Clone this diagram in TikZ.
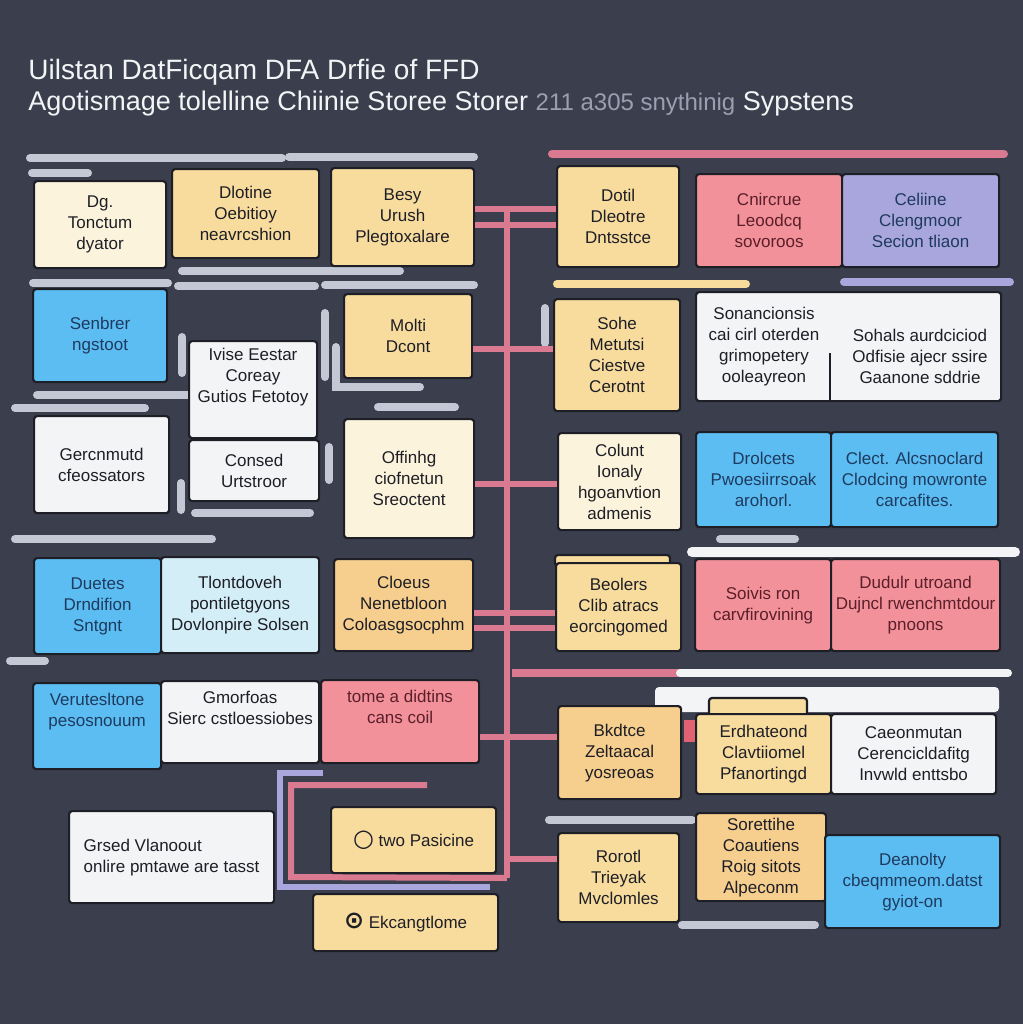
\documentclass[tikz,border=0pt]{standalone}
\usepackage{fontspec}
\setmainfont{Liberation Sans}
\newfontfamily\symfont{DejaVu Sans}
\usetikzlibrary{positioning}
\definecolor{slate}{HTML}{3B3F4D}
\definecolor{ink}{HTML}{1E1F26}
\definecolor{cream}{HTML}{FBF3DC}
\definecolor{sand}{HTML}{F8DC9E}
\definecolor{amber}{HTML}{F6CE8E}
\definecolor{sky}{HTML}{5BBDF2}
\definecolor{mist}{HTML}{D4EEF7}
\definecolor{blush}{HTML}{F3919A}
\definecolor{lilac}{HTML}{A9A6DE}
\definecolor{paper}{HTML}{F3F4F6}
\definecolor{haze}{HTML}{C3C8D4}
\definecolor{rose}{HTML}{D97A90}
\definecolor{navy}{HTML}{1F3A5F}
\definecolor{wine}{HTML}{5A1F2A}
\definecolor{dimtext}{HTML}{9AA0B0}
\tikzset{
card/.style={draw=ink, line width=1.1pt, rounded corners=1.5pt, anchor=north west, align=center, inner sep=2pt, text=ink, font=\fontsize{8.5}{10.5}\selectfont}, % every box of the sketch
sz/.style 2 args={minimum width=#1*0.5pt, minimum height=#2*0.5pt}, % box size in pixels
lbl/.style={align=center, text=ink, font=\fontsize{8.5}{10.5}\selectfont}, % loose text inside a box
rail/.style={line width=4pt, line cap=round, draw=haze}, % the pale bars
wire/.style={line width=3pt, draw=rose}, % pink links to the trunk
}

\begin{document}
\begin{tikzpicture}[
  x=0.5pt, y=-0.5pt
]
  \fill[slate] (0,0) rectangle (1023,1024);
  \useasboundingbox (0,0) rectangle (1023,1024);

  % heading
  \node[anchor=west, text=paper, font=\fontsize{14}{16}\selectfont, inner sep=0pt] (title) at (28,72) {Uilstan DatFicqam DFA Drfie of FFD};
  \node[anchor=west, text=paper, font=\fontsize{13.5}{15}\selectfont, inner sep=0pt] (subtitle) at (28,104) {Agotismage tolelline Chiinie Storee Storer {\color{dimtext}\fontsize{12}{14}\selectfont 211 a305 snythinig} Sypstens};

  % pale bars
  \draw[rail] (30,158) -- (282,158);
  \draw[rail] (289,157) -- (474,157);
  \draw[rail] (32,173) -- (88,173);
  \draw[rail] (182,271) -- (400,271);
  \draw[rail] (33,283) -- (168,283);
  \draw[rail] (178,286) -- (315,286);
  \draw[rail] (325,285) -- (474,285);
  \draw[rail] (182,337) -- (182,373);
  \draw[rail] (325,313) -- (325,377);
  \draw[rail] (336,347) -- (336,387) -- (420,387);
  \draw[rail] (37,395) -- (283,395);
  \draw[rail] (15,408) -- (145,408);
  \draw[rail] (378,407) -- (455,407);
  \draw[rail] (329,447) -- (329,480);
  \draw[rail] (181,483) -- (181,510);
  \draw[rail] (195,513) -- (310,513);
  \draw[rail] (15,539) -- (212,539);
  \draw[rail] (10,661) -- (45,661);
  \draw[rail] (720,539) -- (795,539);
  \draw[rail, draw=paper, line width=5pt] (692,552) -- (1015,552);
  \draw[rail, draw=sand] (557,284) -- (746,284);
  \draw[rail, draw=lilac] (844,282) -- (1010,282);
  \draw[rail] (545,308) -- (545,343);
  \draw[rail] (549,820) -- (692,820);
  \draw[rail] (682,925) -- (815,925);
  \draw[rail, draw=rose] (552,154) -- (1004,154);
  \draw[rail, draw=rose, line cap=butt] (512,673) -- (680,673);
  \draw[rail, draw=paper] (680,673) -- (1008,673);
  \fill[paper, rounded corners=2pt] (655,687) rectangle (999,712);

  % trunk
  \coordinate (top) at (507,208);
  \coordinate (foot) at (507,878);
  \draw[wire] (top) -- (foot);

  % left block
  \node[card, fill=cream, sz={132}{87}] (A1) at (33,180) {Dg.\\ Tonctum\\ dyator};
  \node[card, fill=sand, sz={147}{89}] (A2) at (171,168) {Dlotine\\ Oebitioy\\ neavrcshion};
  \node[card, fill=sand, sz={143}{98}] (A3) at (330,167) {Besy\\ Urush\\ Plegtoxalare};
  \node[card, fill=sky, sz={134}{93}, text=navy] (C1) at (32,288) {Senbrer\\ ngstoot};
  \node[card, fill=paper, sz={128}{97}] (C2) at (188,340) {};
  \node[lbl] (C2t) at (253,377) {Ivise Eestar\\ Coreay\\ Gutios Fetotoy};
  \node[card, fill=sand, sz={128}{84}] (C3) at (343,293) {Molti\\ Dcont};
  \node[card, fill=paper, sz={135}{97}] (E1) at (33,415) {Gercnmutd\\ cfeossators};
  \node[card, fill=paper, sz={130}{61}] (E2) at (188,439) {Consed\\ Urtstroor};
  \node[card, fill=cream, sz={130}{119}] (E3) at (343,418) {Offinhg\\ ciofnetun\\ Sreoctent};
  \node[card, fill=sky, sz={127}{96}, text=navy] (G1) at (33,557) {Duetes\\ Drndifion\\ Sntgnt};
  \node[card, fill=mist, sz={158}{96}] (G2) at (160,556) {Tlontdoveh\\ pontiletgyons\\ Dovlonpire Solsen};
  \node[card, fill=amber, sz={139}{92}] (G3) at (333,558) {Cloeus\\ Nenetbloon\\ Coloasgsocphm};
  \node[card, fill=sky, sz={128}{86}, text=navy] (I1) at (32,682) {Verutesltone\\ pesosnouum\\[6pt]};
  \node[card, fill=paper, sz={158}{82}] (I2) at (160,680) {Gmorfoas\\ Sierc cstloessiobes\\[4pt]};
  \node[card, fill=blush, sz={158}{83}, text=wine] (I3) at (320,679) {tome a didtins\\ cans coil\\[4pt]};
  \node[card, fill=paper, sz={205}{92}, align=left] (K1) at (68,810) {Grsed Vlanoout\\ onlire pmtawe are tasst};

  % bottom left loops
  \draw[wire, draw=lilac] (323,773) -- (280,773) -- (280,887) -- (490,887);
  \draw[wire] (427,785) -- (291,785) -- (291,877) -- (foot);
  \node[card, fill=sand, sz={165}{66}] (K2) at (330,806) {{\symfont\bfseries\large ○}\ two Pasicine};
  \node[card, fill=sand, sz={185}{57}] (K3) at (312,893) {{\symfont\bfseries\large ⊙}\ Ekcangtlome};

  % right block
  \node[card, fill=sand, sz={122}{101}] (B1) at (556,165) {Dotil\\ Dleotre\\ Dntsstce};
  \node[card, fill=blush, sz={146}{93}, text=wine] (B2) at (695,173) {Cnircrue\\ Leoodcq\\ sovoroos};
  \node[card, fill=lilac, sz={157}{93}, text=navy] (B3) at (841,173) {Celiine\\ Clengmoor\\ Secion tliaon};
  \node[card, fill=sand, sz={126}{112}] (D1) at (553,298) {Sohe\\ Metutsi\\ Ciestve\\ Cerotnt};
  \node[card, fill=paper, sz={305}{109}] (D2) at (695,291) {};
  \node[lbl] (D2l) at (764,347) {Sonancionsis\\ cai cirl oterden\\ grimopetery\\ ooleayreon};
  \node[lbl] (D2r) at (920,356) {Sohals aurdciciod\\ Odfisie ajecr ssire\\ Gaanone sddrie};
  \draw[ink, line width=1.1pt] (830,353) -- (830,400);
  \node[card, fill=cream, sz={123}{97}] (F1) at (557,432) {Colunt\\ Ionaly\\ hgoanvtion\\ admenis};
  \node[card, fill=sky, sz={135}{95}, text=navy] (F2) at (695,431) {Drolcets\\ Pwoesiirrsoak\\ arohorl.};
  \node[card, fill=sky, sz={167}{95}, text=navy] (F3) at (830,431) {Clect. Alcsnoclard\\ Clodcing mowronte\\ carcafites.};
  \draw[card, fill=sand] (555,555) rectangle (670,566);
  \node[card, fill=sand, sz={125}{88}] (H1) at (555,562) {Beolers\\ Clib atracs\\ eorcingomed};
  \node[card, fill=blush, sz={136}{92}, text=wine] (H2) at (694,558) {Soivis ron\\ carvfirovining};
  \node[card, fill=blush, sz={169}{92}, text=wine] (H3) at (830,558) {Dudulr utroand\\ Dujncl rwenchmtdour\\ pnoons};
  \node[card, fill=amber, sz={123}{93}] (J1) at (557,705) {Bkdtce\\ Zeltaacal\\ yosreoas};
  \draw[card, fill=sand] (709,698) rectangle (807,716);
  \node[card, fill=sand, sz={135}{80}] (J2) at (695,713) {Erdhateond\\ Clavtiiomel\\ Pfanortingd};
  \node[card, fill=paper, sz={165}{80}] (J3) at (830,713) {Caeonmutan\\ Cerencicldafitg\\ Invwld enttsbo};
  \fill[rose!80!red] (684,720) rectangle (695,742);
  \node[card, fill=sand, sz={121}{89}] (L1) at (557,832) {Rorotl\\ Trieyak\\ Mvclomles};
  \node[card, fill=amber, sz={130}{88}] (L2) at (695,812) {Sorettihe\\ Coautiens\\ Roig sitots\\ Alpeconm};
  \node[card, fill=sky, sz={175}{93}, text=navy] (L3) at (824,834) {Deanolty\\ cbeqmmeom.datst\\ gyiot-on};

  % links across the trunk
  \draw[wire] ([yshift=4pt]A3.east) -- ([yshift=4pt]A3.east -| B1.west);
  \draw[wire] ([yshift=-4pt]A3.east) -- ([yshift=-4pt]A3.east -| B1.west);
  \draw[wire] ([yshift=-6.5pt]C3.east) -- ([yshift=-6.5pt]C3.east -| D1.west);
  \draw[wire] ([yshift=-2.5pt]E3.east) -- ([yshift=-2.5pt]E3.east -| F1.west);
  \draw[wire] ([yshift=-4pt]G3.east) -- ([yshift=-4pt]G3.east -| H1.west);
  \draw[wire] ([yshift=-11.5pt]G3.east) -- ([yshift=-11.5pt]G3.east -| H1.west);
  \draw[wire] ([yshift=-7.5pt]I3.east) -- ([yshift=-7.5pt]I3.east -| J1.west);
  \draw[wire] ([yshift=9.5pt]L1.west) -- ([yshift=9.5pt]L1.west -| top);
\end{tikzpicture}
\end{document}
